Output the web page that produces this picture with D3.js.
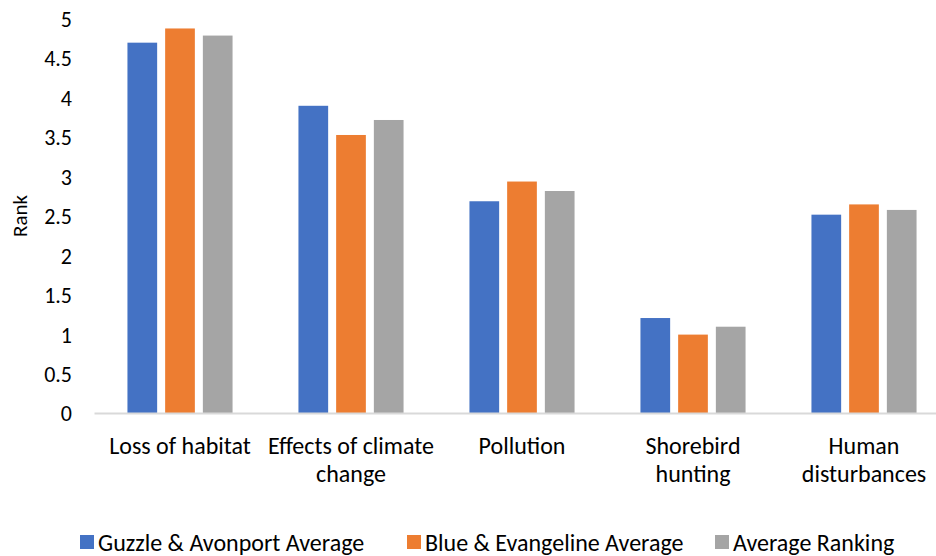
<!DOCTYPE html>
<html>
<head>
<meta charset="utf-8">
<script src="https://cdn.jsdelivr.net/npm/d3@7"></script>
<style>
  html, body { margin: 0; padding: 0; background: #fff; }
  svg text { font-family: Carlito, Calibri, Lato, "Open Sans", sans-serif; fill: #000; }
</style>
</head>
<body>
<svg id="chart" width="936" height="556"></svg>
<script>
const categories = [["Loss of habitat"], ["Effects of climate", "change"], ["Pollution"], ["Shorebird", "hunting"], ["Human", "disturbances"]];
const seriesNames = ["Guzzle & Avonport Average", "Blue & Evangeline Average", "Average Ranking"];
const guzzleAvonport = [4.7, 3.9, 2.69, 1.21, 2.52];
const blueEvangeline = [4.88, 3.53, 2.94, 1.0, 2.65];
const averageRanking = [4.79, 3.72, 2.82, 1.1, 2.58];
const colors = ["#4472C4", "#ED7D31", "#A5A5A5"];
const yTicks = [0, 0.5, 1, 1.5, 2, 2.5, 3, 3.5, 4, 4.5, 5];

const series = [guzzleAvonport, blueEvangeline, averageRanking];
const svg = d3.select("#chart");

const x0 = d3.scaleBand().domain(d3.range(categories.length)).range([94.5, 949.5]).paddingInner(0).paddingOuter(0);
const y = d3.scaleLinear().domain([0, 5]).range([413.5, 19]);

// bars: each group is 3 bars of width ~29.7 with 8px gaps, centred in its band
const barW = 29.7, barGap = 8;
const groupW = 3 * barW + 2 * barGap;
series.forEach((vals, si) => {
  svg.append("g").selectAll("rect").data(vals).join("rect")
    .attr("x", (d, i) => x0(i) + x0.bandwidth() / 2 - groupW / 2 + si * (barW + barGap))
    .attr("y", d => y(d))
    .attr("width", barW)
    .attr("height", d => y(0) - y(d))
    .attr("fill", colors[si]);
});

// baseline
svg.append("line")
  .attr("x1", 94.5).attr("x2", 949.5)
  .attr("y1", y(0)).attr("y2", y(0))
  .attr("stroke", "#D9D9D9").attr("stroke-width", 2);

// y tick labels
svg.append("g").selectAll("text").data(yTicks).join("text")
  .attr("x", 72)
  .attr("y", d => y(d))
  .attr("dy", "0.36em")
  .attr("text-anchor", "end")
  .attr("font-size", 22)
  .text(d => d3.format("")(d));

// y axis title
svg.append("text")
  .attr("transform", "translate(27,216) rotate(-90)")
  .attr("text-anchor", "middle")
  .attr("font-size", 21)
  .text("Rank");

// category labels
const catG = svg.append("g").selectAll("text").data(categories).join("text")
  .attr("text-anchor", "middle")
  .attr("font-size", 24)
  .attr("x", (d, i) => x0(i) + x0.bandwidth() / 2)
  .attr("y", 454);
catG.selectAll("tspan").data(d => d).join("tspan")
  .attr("x", function () { return d3.select(this.parentNode).attr("x"); })
  .attr("dy", (d, i) => i === 0 ? 0 : 28)
  .text(d => d);

// legend
const legendX = [80, 407, 715];
const leg = svg.append("g").selectAll("g").data(seriesNames).join("g")
  .attr("transform", (d, i) => `translate(${legendX[i]},535)`);
leg.append("rect").attr("width", 14).attr("height", 14).attr("fill", (d, i) => colors[i]);
leg.append("text").attr("x", 18).attr("y", 7).attr("dy", "0.36em")
  .attr("font-size", 24).text(d => d);
</script>
</body>
</html>
